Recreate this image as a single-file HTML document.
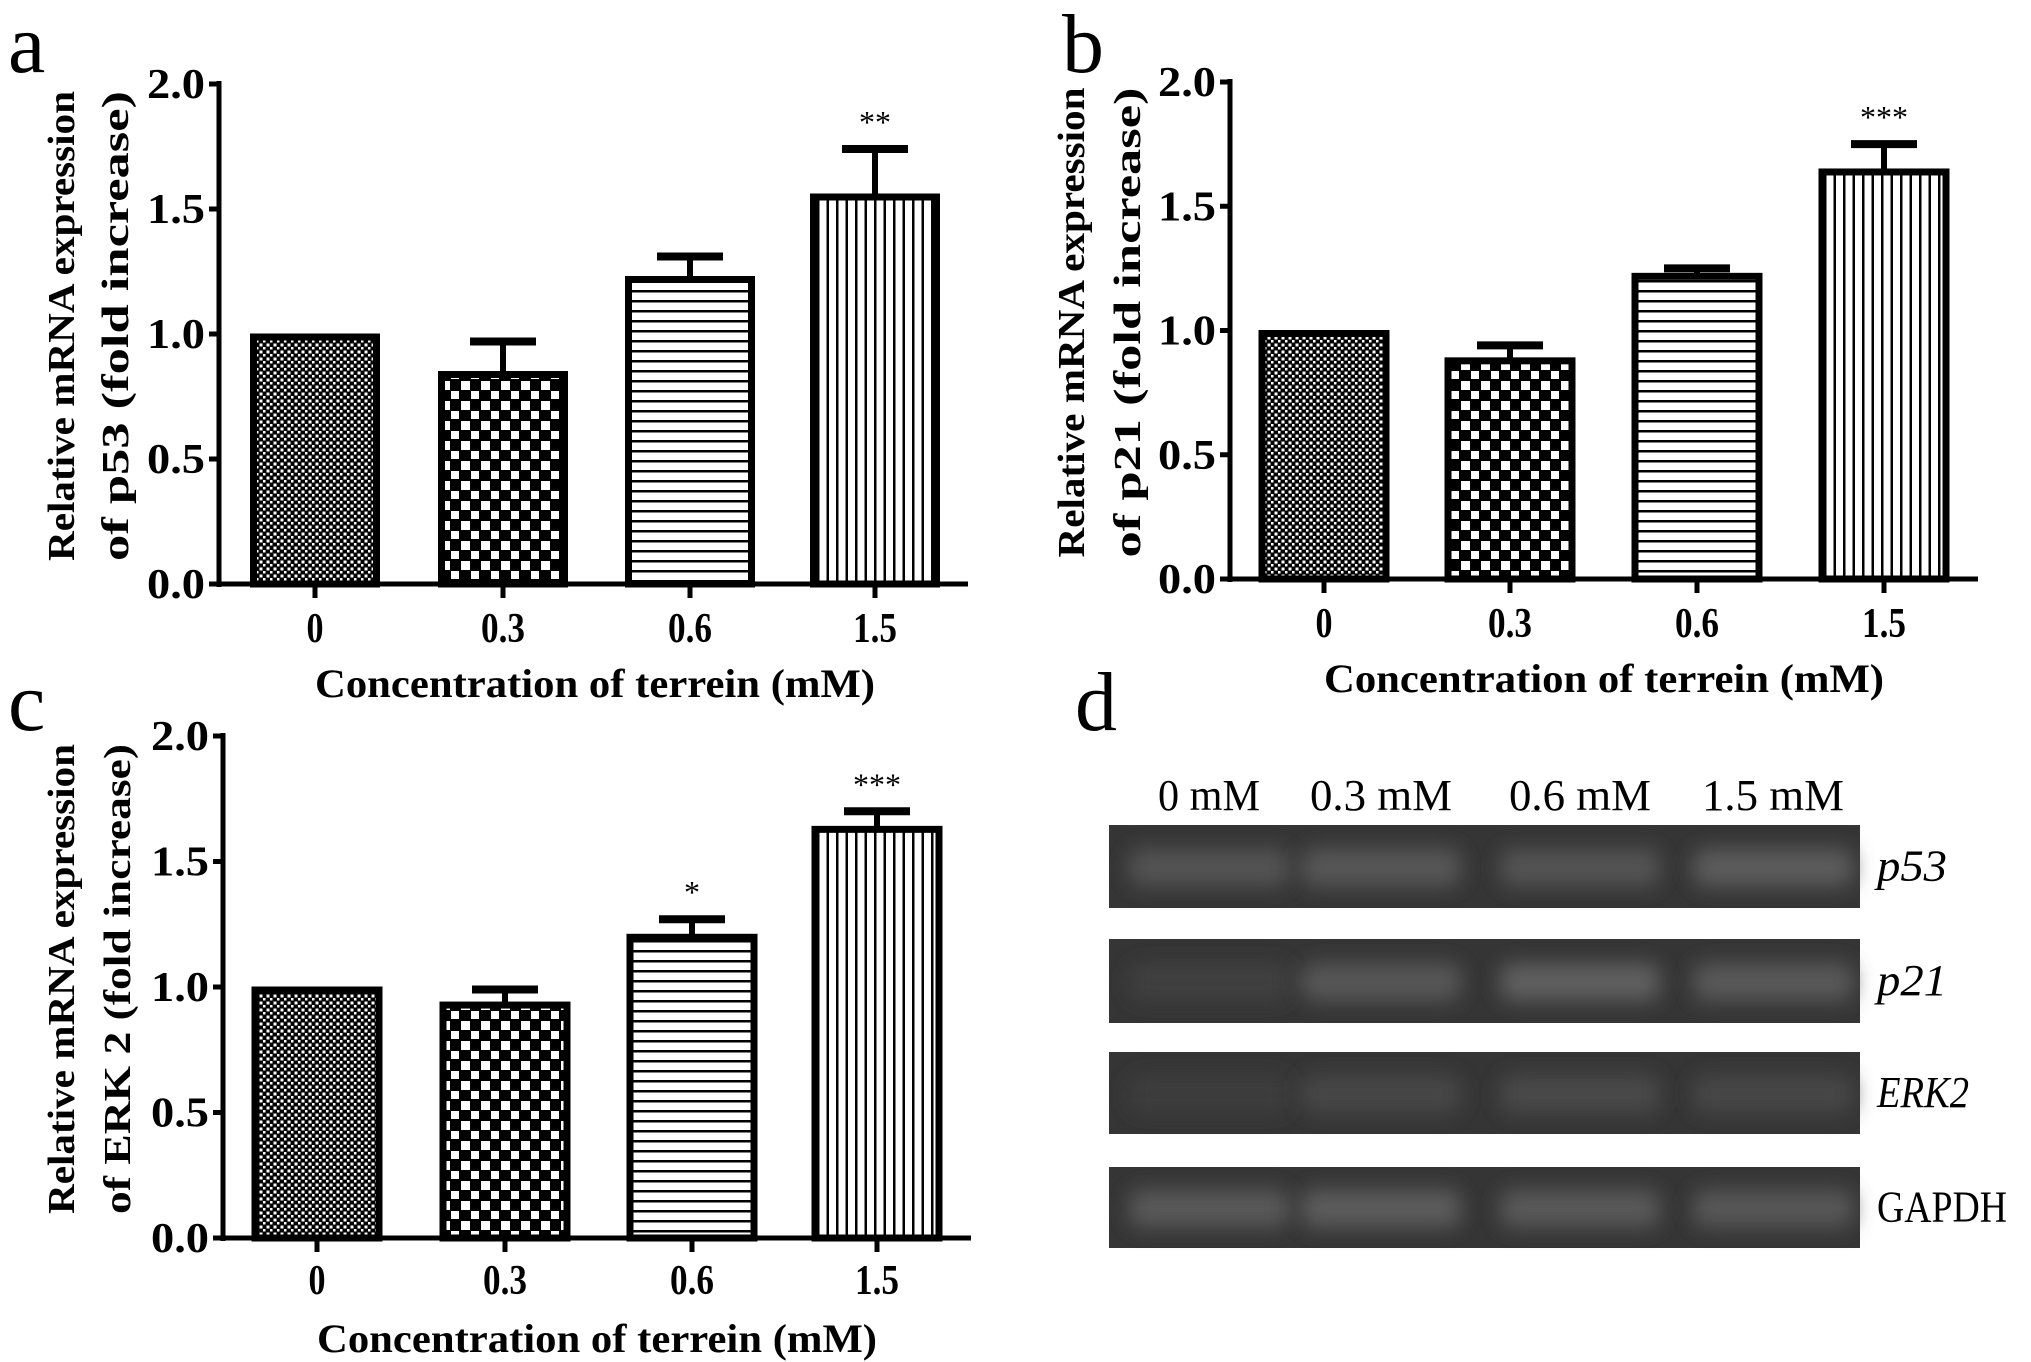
<!DOCTYPE html>
<html><head><meta charset="utf-8">
<style>
html,body{margin:0;padding:0;background:#fff;}
svg{display:block;}
text{font-family:"Liberation Serif",serif;}
</style></head>
<body>
<svg id="fig" width="2031" height="1362" viewBox="0 0 2031 1362" xmlns="http://www.w3.org/2000/svg">
<defs>
<pattern id="pDots" width="7" height="7" patternUnits="userSpaceOnUse">
<rect width="7" height="7" fill="#000"/><rect x="0.5" y="0.5" width="3" height="3" fill="#fff"/><rect x="4" y="4" width="2.5" height="2.5" fill="#fff"/>
</pattern>
<pattern id="pCheck" width="20" height="20" patternUnits="userSpaceOnUse">
<rect width="20" height="20" fill="#000"/><rect x="1" y="1" width="9" height="9" fill="#fff"/><rect x="11" y="11" width="8" height="8" fill="#fff"/>
</pattern>
<pattern id="pHoriz" width="10" height="10" patternUnits="userSpaceOnUse">
<rect width="10" height="10" fill="#fff"/><rect y="0" width="10" height="2.5" fill="#000"/>
</pattern>
<pattern id="pVert" width="9.5" height="10" patternUnits="userSpaceOnUse">
<rect width="10" height="10" fill="#fff"/><rect x="0" width="2.5" height="10" fill="#000"/>
</pattern>
<filter id="blur" x="-50%" y="-100%" width="200%" height="300%"><feGaussianBlur stdDeviation="10"/></filter>
</defs>
<g id="charts"></g>
<g id="gel"></g>
</svg>
<script>
const NS="http://www.w3.org/2000/svg";
const categories=["0","0.3","0.6","1.5"];
const yTicks=[0,0.5,1.0,1.5,2.0];
const yTickLabels=["0.0","0.5","1.0","1.5","2.0"];
const valuesA=[1.0,0.85,1.23,1.56];
const errorsA=[0,0.12,0.08,0.18];
const starsA=["","","","**"];
const valuesB=[1.0,0.89,1.23,1.65];
const errorsB=[0,0.05,0.02,0.10];
const starsB=["","","","***"];
const valuesC=[1.0,0.94,1.21,1.64];
const errorsC=[0,0.05,0.06,0.06];
const starsC=["","","*","***"];
const gelCols=["0 mM","0.3 mM","0.6 mM","1.5 mM"];
const gelRows=["p53","p21","ERK2","GAPDH"];
const gelIntensity=[[0.5,0.55,0.5,0.65],[0.2,0.55,0.7,0.6],[0.15,0.3,0.35,0.3],[0.6,0.65,0.6,0.55]];

const fills=["url(#pDots)","url(#pCheck)","url(#pHoriz)","url(#pVert)"];
function el(tag,attrs,parent,txt){const e=document.createElementNS(NS,tag);for(const k in attrs)e.setAttribute(k,attrs[k]);if(txt!==undefined)e.textContent=txt;parent.appendChild(e);return e;}

const panels=[
 {id:"a",vals:valuesA,errs:errorsA,stars:starsA,ax:219,y0:584,y2:84,xEnd:968,centers:[315,503,690,875],bw:129,tickY:642,titleY:697,lab1X:74,lab2X:128,gene:"of p53   (fold increase)",letterX:8,letterY:72},
 {id:"b",vals:valuesB,errs:errorsB,stars:starsB,ax:1230,y0:579,y2:82,xEnd:1978,centers:[1324,1510,1697,1884],bw:130,tickY:637,titleY:692,lab1X:1084,lab2X:1140,gene:"of p21  (fold increase)",letterX:1062,letterY:72},
 {id:"c",vals:valuesC,errs:errorsC,stars:starsC,ax:223,y0:1238,y2:736,xEnd:971,centers:[317,505,692,877],bw:130,tickY:1294,titleY:1352,lab1X:74,lab2X:130,gene:"of ERK 2 (fold increase)",letterX:8,letterY:730}
];
const root=document.getElementById('charts');
panels.forEach(p=>{
 const g=el('g',{},root);
 
 
 const yS=v=>p.y0-(v/2)*(p.y0-p.y2);
 const lt=el('text',{x:p.letterX,y:p.letterY,'font-size':84},g,p.id);
 
 
 p.vals.forEach((v,i)=>{
  const cx=p.centers[i],top=yS(v);
  const b=el('rect',{x:cx-p.bw/2+3,y:top+3,width:p.bw-6,height:p.y0-top-3,fill:fills[i],stroke:'#000','stroke-width':7},g);
  
  
  if(p.errs[i]>0){
   const et=yS(v+p.errs[i]);
   const eg=el('g',{},g);
   
   
   el('line',{x1:cx,x2:cx,y1:top,y2:et,stroke:'#000','stroke-width':6},eg);
   el('line',{x1:cx-33,x2:cx+33,y1:et,y2:et,stroke:'#000','stroke-width':8},eg);
  }
  if(p.stars[i]){
   const st=el('text',{x:cx,y:yS(v+p.errs[i])-16,'font-size':32,'text-anchor':'middle'},g,p.stars[i]);
   
   
  }
  const tk=el('line',{x1:cx,x2:cx,y1:p.y0,y2:p.y0+14,stroke:'#000','stroke-width':5},g);
  
  
  const w=categories[i].length>1?44:17;
  const tl=el('text',{x:cx,y:p.tickY,'font-size':42,'font-weight':'bold','text-anchor':'middle',textLength:w,lengthAdjust:'spacingAndGlyphs'},g,categories[i]);
  
  
 });
 const ya=el('line',{x1:p.ax,x2:p.ax,y1:p.y2-3,y2:p.y0+3,stroke:'#000','stroke-width':5},g);
 
 
 const xa=el('line',{x1:p.ax-10,x2:p.xEnd,y1:p.y0,y2:p.y0,stroke:'#000','stroke-width':5},g);
 
 
 yTicks.forEach((t,k)=>{
  el('line',{x1:p.ax-10,x2:p.ax,y1:yS(t),y2:yS(t),stroke:'#000','stroke-width':5},g);
  const yl=el('text',{x:p.ax-14,y:yS(t)+14,'font-size':42,'font-weight':'bold','text-anchor':'end',textLength:58,lengthAdjust:'spacingAndGlyphs'},g,yTickLabels[k]);
  
  
 });
 const midY=(p.y0+p.y2)/2-8;
 const t1=el('text',{x:0,y:0,'font-size':38,'font-weight':'bold','text-anchor':'middle',textLength:470,lengthAdjust:'spacingAndGlyphs',transform:`translate(${p.lab1X},${midY}) rotate(-90)`},g,'Relative mRNA expression');
 
 
 const t2=el('text',{x:0,y:0,'font-size':38,'font-weight':'bold','text-anchor':'middle',textLength:470,lengthAdjust:'spacingAndGlyphs',transform:`translate(${p.lab2X},${midY}) rotate(-90)`},g,p.gene);
 
 
 const xt=el('text',{x:(p.centers[0]+p.centers[3])/2,y:p.titleY,'font-size':40,'font-weight':'bold','text-anchor':'middle',textLength:560,lengthAdjust:'spacingAndGlyphs'},g,'Concentration of terrein (mM)');
 
 
});

const gel=document.getElementById('gel');
const dl=el('text',{x:1075,y:730,'font-size':84},gel,'d');


const colX=[1209,1381,1580,1773];
gelCols.forEach((c,i)=>{
 const t=el('text',{x:colX[i],y:810,'font-size':44,'text-anchor':'middle',textLength:c.length>4?142:102,lengthAdjust:'spacingAndGlyphs'},gel,c);
 
 
});
const rowY=[[825,908],[939,1023],[1052,1134],[1167,1248]];
gelRows.forEach((r,j)=>{
 const [y1,y2]=rowY[j];
 const rg=el('g',{},gel);
 
 
 el('rect',{x:1109,y:y1,width:751,height:y2-y1,fill:'#353535'},rg);
 gelIntensity[j].forEach((v,i)=>{
  const g=Math.round(53+v*60);
  el('rect',{x:colX[i]-80,y:(y1+y2)/2-18,width:160,height:38,rx:12,fill:`rgb(${g},${g},${g})`,filter:'url(#blur)'},rg);
 });
 const lab=el('text',{x:1877,y:(y1+y2)/2+14,'font-size':44,'font-style':r==='GAPDH'?'normal':'italic',textLength:r==='GAPDH'?130:(r==='ERK2'?92:70),lengthAdjust:'spacingAndGlyphs'},rg,r);
 
 
});
</script>
</body></html>
